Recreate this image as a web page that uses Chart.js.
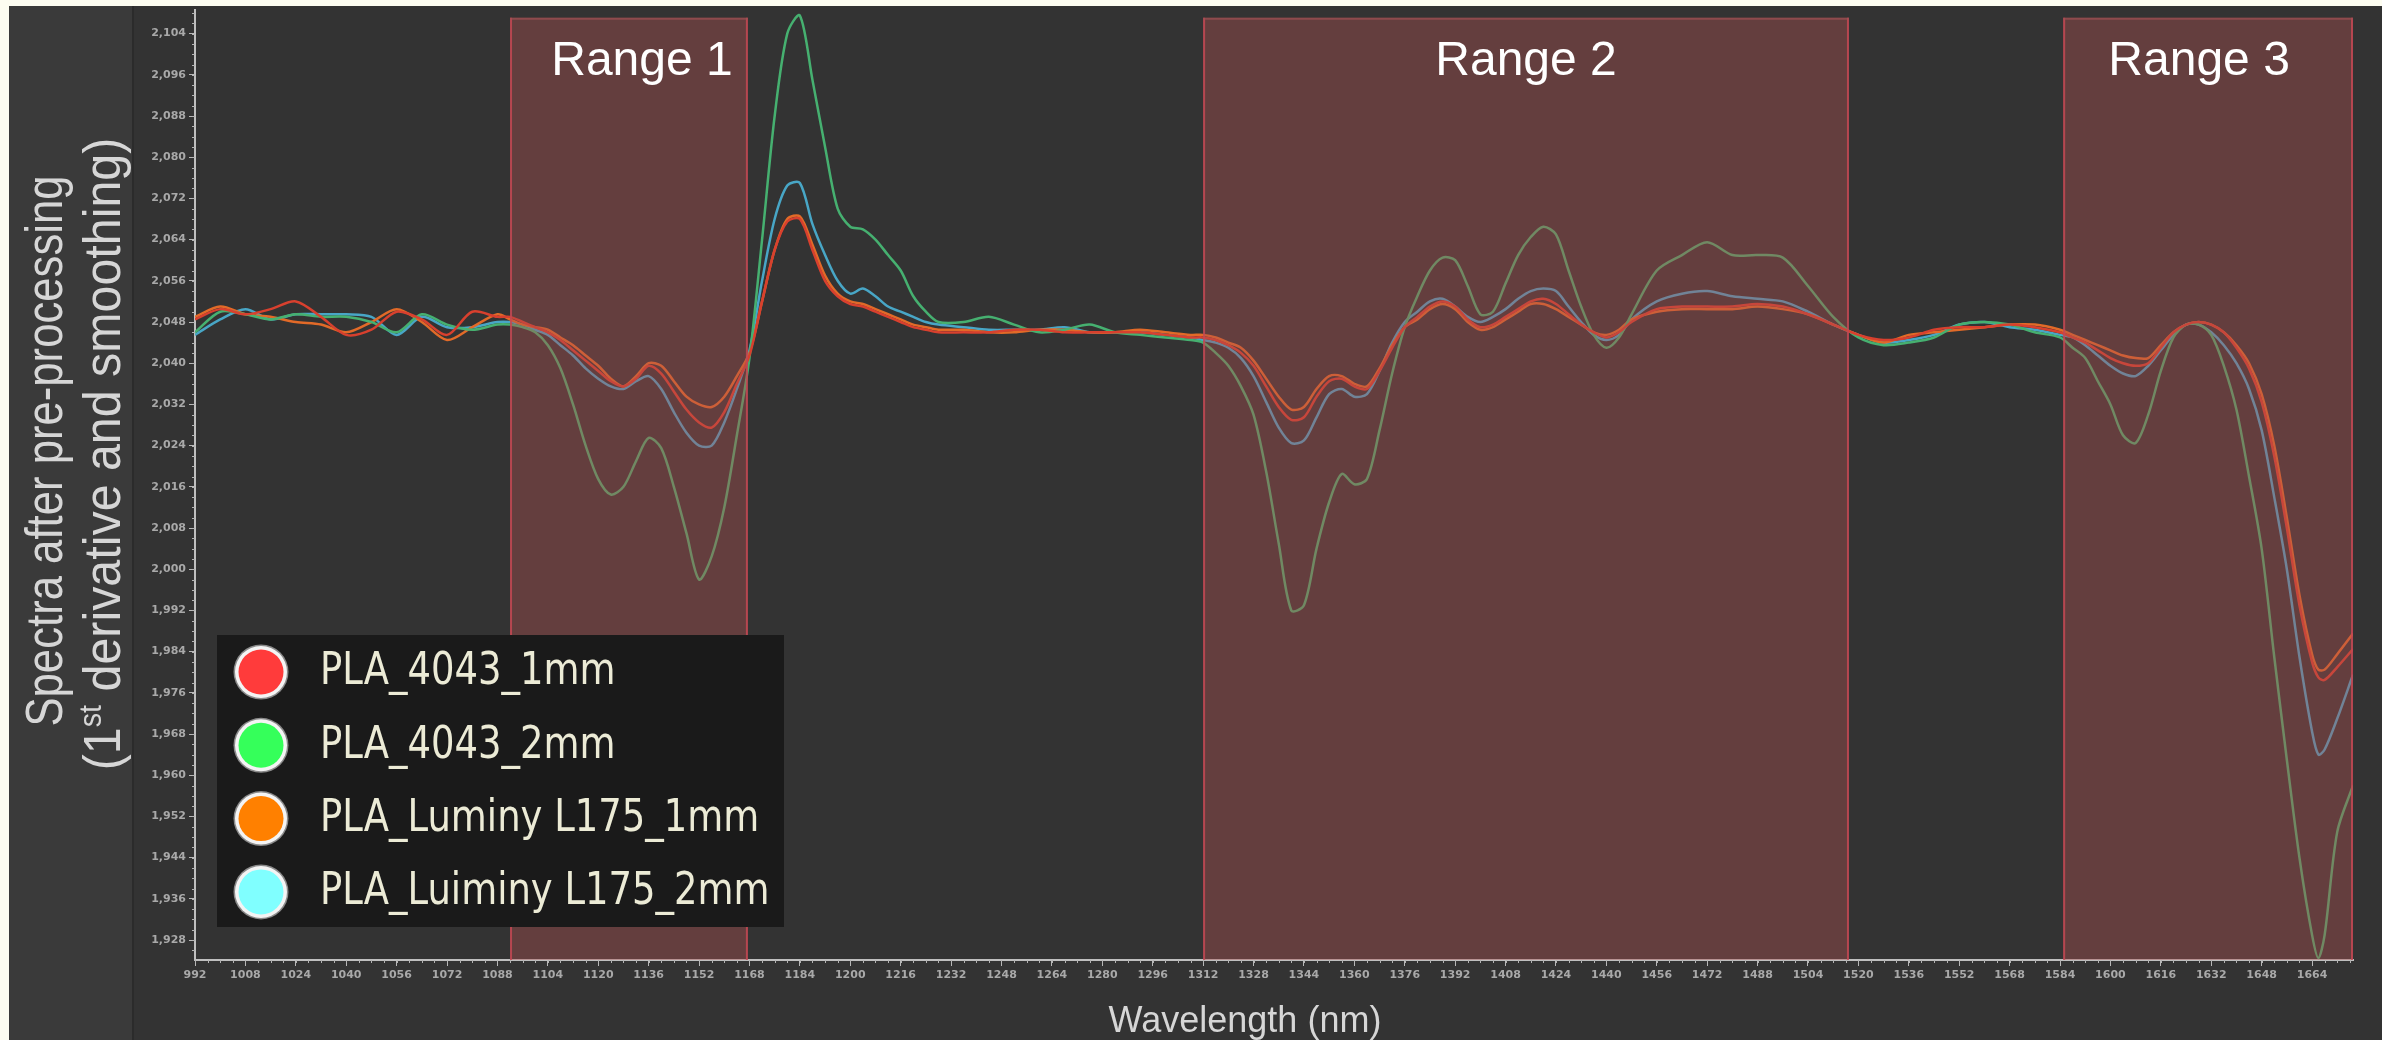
<!DOCTYPE html>
<html><head><meta charset="utf-8">
<script src="https://cdn.jsdelivr.net/npm/chart.js@4.4.1/dist/chart.umd.min.js"></script>
<style>
html,body{margin:0;padding:0;background:#fdfdf1;overflow:hidden;}
canvas{display:block;}
</style></head><body>
<canvas id="c" width="2382" height="1040"></canvas>
<script>
// ---------------- DATA ----------------
const wavelengths = [
 992,1000,1008,1016,1024,1032,1040,1048,1056,1064,1072,1080,1088,
 1092,1096,1100,1104,1108,1112,1116,1120,1124,1128,1132,1136,1140,1144,1148,1152,1156,1160,1164,1168,1172,1176,1180,1184,1188,1192,1196,1200,1204,1208,1212,1216,1220,1224,1228,
 1236,1244,1252,1260,1268,1276,1284,1292,1300,1308,
 1312,1316,1320,1324,1328,1332,1336,1340,1344,1348,1352,1356,1360,1364,1368,1372,1376,1380,1384,1388,1392,1396,1400,1404,1408,1412,1416,1420,1424,1428,1432,1436,1440,1444,1448,
 1456,1464,1472,1480,1488,1496,1504,1512,1520,
 1528,1536,1544,1552,1560,1568,1576,1584,
 1588,1592,1596,1600,1604,1608,1612,1616,1620,1624,1628,1632,1636,1640,1644,1648,1652,1656,1660,1664,1666,1668,1672,1677
];
const pla4043_1mm = [
 2048.5,2050.5,2049.5,2050.5,2052,2049,2045.5,2046.5,2050,2048.5,2045.5,2050,2049,
 2049,2048,2047,2046,2044.5,2042.5,2040.5,2038.5,2036.5,2035.5,2037,2039.5,2038,2034.5,2031,2028.5,2027.5,2030.5,2036,2041.5,2052,2062,2067.5,2068,2062,2056,2053,2051.5,2051,2050,2049,2048,2047,2046.5,2046,
 2046,2046,2046.5,2046.5,2046,2046,2046,2046,2045.5,2045,
 2045,2044.5,2043.5,2042,2039.5,2035.5,2031.5,2029,2029.5,2033.5,2036.5,2037,2035.5,2035,2038.5,2043,2047,2049,2051,2052,2051,2048.5,2047,2047.5,2049,2050.5,2052,2052.5,2051.5,2049.5,2047.5,2046,2045,2046,2048,
 2050.5,2051,2051,2051,2051.5,2051,2049.5,2047.5,2045.5,
 2044.5,2045,2046.5,2047,2047,2047.5,2047,2046,
 2045,2044,2042.5,2041,2040,2039.5,2040,2043,2046,2047.5,2048,2047.5,2046,2043,2039,2032.5,2022,2008,1993,1982,1979,1978.5,1981,1984.5
];
const pla4043_2mm = [
 2046,2050,2049.5,2048.5,2049.5,2049,2049,2048,2046,2049.5,2047.5,2046.5,2047.5,
 2047.5,2047,2046,2043.5,2039,2032,2024,2017.5,2014.5,2016,2021,2025.5,2023.5,2016,2007,1998,2002.5,2012,2026,2041,2064,2088,2104,2107.5,2095,2082,2070,2066.5,2066,2064,2061,2058,2053,2050,2048,
 2048,2049,2047.5,2046,2046.5,2047.5,2046,2045.5,2045,2044.5,
 2044,2042,2039.5,2035.5,2030,2019,2005,1992,1993,2004,2013,2018.5,2016.5,2017.5,2027,2038,2047,2053,2058,2060.5,2060,2055,2049.5,2050,2055.5,2061,2064.5,2066.5,2065,2058,2051,2045.5,2043,2045,2049.5,
 2058,2061,2063.5,2061,2061,2060.5,2055,2049,2045,
 2043.5,2044,2045,2047.5,2048,2047.5,2046,2045,
 2043,2041,2036.5,2032,2026,2024.5,2030,2038.5,2045,2047.5,2047.5,2045.5,2039.5,2031,2018,2004,1983,1963,1944,1929,1924.5,1929,1949,1958
];
const luminyL175_1mm = [
 2049,2051,2049.5,2049,2048,2047.5,2046,2048,2050.5,2048,2044.5,2047,2049.5,
 2048.5,2047.5,2047,2046.5,2045,2043.5,2041.5,2039.5,2037,2035.5,2037.5,2040,2039.5,2036.5,2033.5,2032,2031.5,2033.5,2037.5,2042,2052,2062,2068,2068.5,2063,2057,2053.5,2052,2051.5,2050.5,2049.5,2048.5,2047.5,2047,2046.5,
 2046.5,2046,2046,2046.5,2046.5,2046,2046,2046.5,2046,2045.5,
 2045.5,2045,2044,2043,2040.5,2037,2033.5,2031,2031.5,2035,2037.5,2037.5,2036,2035.5,2039,2043.5,2047,2048.5,2050.5,2051.5,2050.5,2048,2046.5,2047,2048.5,2050,2051.5,2051.5,2050.5,2049,2047.5,2046,2045.5,2046.5,2048.5,
 2050,2050.5,2050.5,2050.5,2051,2050.5,2049.5,2047.5,2045.5,
 2044,2045.5,2046,2046.5,2047,2047.5,2047.5,2046.5,
 2045.5,2044.5,2043.5,2042.5,2041.5,2041,2041,2043.5,2046,2047.5,2048,2047.5,2046,2043.5,2040,2034,2024,2010,1995,1983.5,1980.5,1980.5,1983.5,1987.5
];
const luiminyL175_2mm = [
 2045.5,2048.5,2050.5,2048.5,2049.5,2049.5,2049.5,2049,2045.5,2049,2047,2047,2048,
 2048,2047.5,2046.5,2045.5,2043.5,2041.5,2039,2037,2035.5,2035,2036.5,2037.5,2035,2030.5,2026.5,2024,2024,2028.5,2035,2042.5,2056,2068,2074.5,2075,2067,2061,2056,2053.5,2054.5,2053,2051,2050,2049,2048,2047.5,
 2047,2046.5,2046.5,2046.5,2047,2046,2046,2046,2045.5,2045,
 2044.5,2044,2043,2041,2037.5,2032.5,2027.5,2024.5,2025,2029.5,2034,2035,2033.5,2034,2038.5,2044,2048,2050,2052,2052.5,2051,2049,2048,2049,2050.5,2052.5,2054,2054.5,2054,2051,2048,2045.5,2044.5,2045.5,2048.5,
 2052,2053.5,2054,2053,2052.5,2052,2050,2047.5,2045.5,
 2044,2044.5,2045.5,2047.5,2048,2047,2046.5,2045.5,
 2045,2043.5,2041.5,2039.5,2038,2037.5,2039.5,2042.5,2045.5,2047.5,2047.5,2046,2043.5,2040,2035,2027,2014,2000,1983,1968.5,1964,1965,1971,1979.5
];
const seriesNames = ['PLA_4043_1mm','PLA_4043_2mm','PLA_Luminy L175_1mm','PLA_Luiminy L175_2mm'];
const rangeLabels = ['Range 1','Range 2','Range 3'];
const rangeStart = [1092, 1312, 1585];
const rangeEnd   = [1167.5, 1517, 1677];
const rangeTop   = 2107.1;
const xTickValues = [992,1008,1024,1040,1056,1072,1088,1104,1120,1136,1152,1168,1184,1200,1216,1232,1248,1264,1280,1296,1312,1328,1344,1360,1376,1392,1408,1424,1440,1456,1472,1488,1504,1520,1536,1552,1568,1584,1600,1616,1632,1648,1664];
const yTickValues = [1928,1936,1944,1952,1960,1968,1976,1984,1992,2000,2008,2016,2024,2032,2040,2048,2056,2064,2072,2080,2088,2096,2104];
const xTitle = 'Wavelength (nm)';
const yTitleLine1 = 'Spectra after pre-processing';
const yTitleLine2 = ['(1', 'st', ' derivative and smoothing)'];

// ---------------- STYLE ----------------
const lineColors   = ['#d8402e', '#46b070', '#e26a28', '#48a6c6'];
const markerColors = ['#ff3b3b', '#35ff5a', '#ff8000', '#80ffff'];
const W = 2382, H = 1040;

const allSeries = [pla4043_1mm, pla4043_2mm, luminyL175_1mm, luiminyL175_2mm];
const datasets = allSeries.map((vals, i) => ({
  label: seriesNames[i],
  data: wavelengths.map((w, k) => ({x: w, y: vals[k]})),
  borderColor: lineColors[i],
  backgroundColor: lineColors[i],
  borderWidth: 2.5,
  pointRadius: 0,
  tension: 0.3,
  fill: false
}));

const backgroundPlugin = {
  id: 'bg',
  beforeDraw(chart) {
    const ctx = chart.ctx;
    ctx.save();
    ctx.fillStyle = '#fdfdf1';
    ctx.fillRect(0, 0, W, H);
    ctx.fillStyle = '#333333';
    ctx.fillRect(9, 6, W - 9, H - 6);
    ctx.fillStyle = '#3a3a3a';
    ctx.fillRect(9, 6, 124, H - 6);
    ctx.fillStyle = '#2b2b2b';
    ctx.fillRect(132, 6, 2, H - 6);
    ctx.restore();
  }
};

const rangePlugin = {
  id: 'ranges',
  afterDatasetsDraw(chart) {
    const {ctx, scales: {x, y}, chartArea: a} = chart;
    const offsets = [13, 0, -9];
    ctx.save();
    rangeLabels.forEach((lab, i) => {
      const x1 = x.getPixelForValue(rangeStart[i]);
      const x2 = Math.min(x.getPixelForValue(rangeEnd[i]), a.right);
      const yt = y.getPixelForValue(rangeTop);
      const yb = a.bottom;
      ctx.fillStyle = 'rgba(175,80,80,0.40)';
      ctx.fillRect(x1, yt, x2 - x1, yb - yt);
      ctx.strokeStyle = 'rgba(196,72,84,0.85)';
      ctx.lineWidth = 2;
      ctx.beginPath();
      ctx.moveTo(x1 + 1, yb); ctx.lineTo(x1 + 1, yt);
      ctx.moveTo(x2 - 1, yb); ctx.lineTo(x2 - 1, yt);
      ctx.stroke();
      ctx.strokeStyle = 'rgba(160,80,84,0.7)';
      ctx.beginPath();
      ctx.moveTo(x1, yt + 1); ctx.lineTo(x2, yt + 1);
      ctx.stroke();
      ctx.fillStyle = '#ffffff';
      ctx.font = '48px "Liberation Sans", Arial, sans-serif';
      ctx.textAlign = 'center';
      ctx.textBaseline = 'alphabetic';
      ctx.fillText(lab, (x1 + x2) / 2 + offsets[i], yt + 57);
    });
    ctx.restore();
  }
};

const decorPlugin = {
  id: 'decor',
  afterDraw(chart) {
    const {ctx, scales: {x, y}, chartArea: a} = chart;
    ctx.save();
    // minor ticks
    ctx.strokeStyle = '#b4b4b4';
    ctx.lineWidth = 1;
    ctx.beginPath();
    for (let v = 992; v <= x.max; v += 4) {
      const px = Math.round(x.getPixelForValue(v)) + 0.5;
      ctx.moveTo(px, a.bottom); ctx.lineTo(px, a.bottom + 3);
    }
    for (let v = 1926; v <= y.max; v += 2) {
      const py = Math.round(y.getPixelForValue(v)) + 0.5;
      ctx.moveTo(a.left, py); ctx.lineTo(a.left - 3, py);
    }
    ctx.stroke();

    // axis titles
    ctx.fillStyle = '#d6d6d6';
    ctx.font = '36px "Liberation Sans", Arial, sans-serif';
    ctx.textAlign = 'center';
    ctx.textBaseline = 'alphabetic';
    ctx.fillText(xTitle, 1245, 1032);

    const F = 52;
    ctx.save();
    ctx.translate(62, 451);
    ctx.rotate(-Math.PI / 2);
    ctx.scale(0.84, 1);
    ctx.font = F + 'px "Liberation Sans", Arial, sans-serif';
    ctx.fillText(yTitleLine1, 0, 0);
    ctx.restore();

    ctx.save();
    ctx.translate(120, 454);
    ctx.rotate(-Math.PI / 2);
    ctx.scale(0.93, 1);
    ctx.textAlign = 'left';
    const big = F + 'px "Liberation Sans", Arial, sans-serif';
    const small = Math.round(F * 0.6) + 'px "Liberation Sans", Arial, sans-serif';
    ctx.font = big; const w0 = ctx.measureText(yTitleLine2[0]).width;
    const w2 = ctx.measureText(yTitleLine2[2]).width;
    ctx.font = small; const w1 = ctx.measureText(yTitleLine2[1]).width;
    let px = -(w0 + w1 + w2) / 2;
    ctx.font = big; ctx.fillText(yTitleLine2[0], px, 0); px += w0;
    ctx.font = small; ctx.fillText(yTitleLine2[1], px, -F * 0.36); px += w1;
    ctx.font = big; ctx.fillText(yTitleLine2[2], px, 0);
    ctx.restore();

    // legend
    const lx = 217, ly = 635, lw = 567, lh = 292;
    ctx.fillStyle = '#1a1a1a';
    ctx.fillRect(lx, ly, lw, lh);
    chart.data.datasets.forEach((ds, i) => {
      const cy = 672 + i * 73.3;
      const cx = 261;
      ctx.beginPath(); ctx.arc(cx, cy, 27.5, 0, Math.PI * 2); ctx.fillStyle = '#8a8a8a'; ctx.fill();
      ctx.beginPath(); ctx.arc(cx, cy, 26, 0, Math.PI * 2); ctx.fillStyle = '#f4f4f4'; ctx.fill();
      ctx.beginPath(); ctx.arc(cx, cy, 22.5, 0, Math.PI * 2); ctx.fillStyle = markerColors[i]; ctx.fill();
      ctx.save();
      ctx.translate(320, cy);
      ctx.scale(0.84, 1);
      ctx.fillStyle = '#ecebd6';
      ctx.font = '44px "DejaVu Sans", sans-serif';
      ctx.textAlign = 'left';
      ctx.textBaseline = 'middle';
      ctx.fillText(ds.label, 0, 1);
      ctx.restore();
    });
    ctx.restore();
  }
};

const tickFont = {family: '"DejaVu Sans", sans-serif', size: 11, weight: 'bold'};

new Chart(document.getElementById('c'), {
  type: 'line',
  data: {datasets},
  options: {
    responsive: false,
    animation: false,
    devicePixelRatio: 1,
    layout: {padding: {left: 134, right: 29, top: 9, bottom: 0}},
    plugins: {legend: {display: false}, tooltip: {enabled: false}, title: {display: false}},
    scales: {
      x: {
        type: 'linear', min: 992, max: 1677,
        afterFit: s => { s.height = 80; },
        afterBuildTicks: s => { s.ticks = xTickValues.map(v => ({value: v})); },
        ticks: {color: '#a9a9a9', font: tickFont, padding: 3, maxRotation: 0, autoSkip: false, callback: v => String(v)},
        grid: {drawOnChartArea: false, drawTicks: true, tickLength: 6, tickColor: '#b8b8b8', tickWidth: 1},
        border: {display: true, color: '#bfbfbf', width: 2}
      },
      y: {
        type: 'linear', min: 1924.12, max: 2108.66,
        afterFit: s => { s.width = 61; },
        afterBuildTicks: s => { s.ticks = yTickValues.map(v => ({value: v})); },
        ticks: {color: '#a9a9a9', font: tickFont, padding: 3, autoSkip: false, callback: v => v.toLocaleString('en-US')},
        grid: {drawOnChartArea: false, drawTicks: true, tickLength: 6, tickColor: '#b8b8b8', tickWidth: 1},
        border: {display: true, color: '#bfbfbf', width: 2}
      }
    }
  },
  plugins: [backgroundPlugin, rangePlugin, decorPlugin]
});
</script>
</body></html>
